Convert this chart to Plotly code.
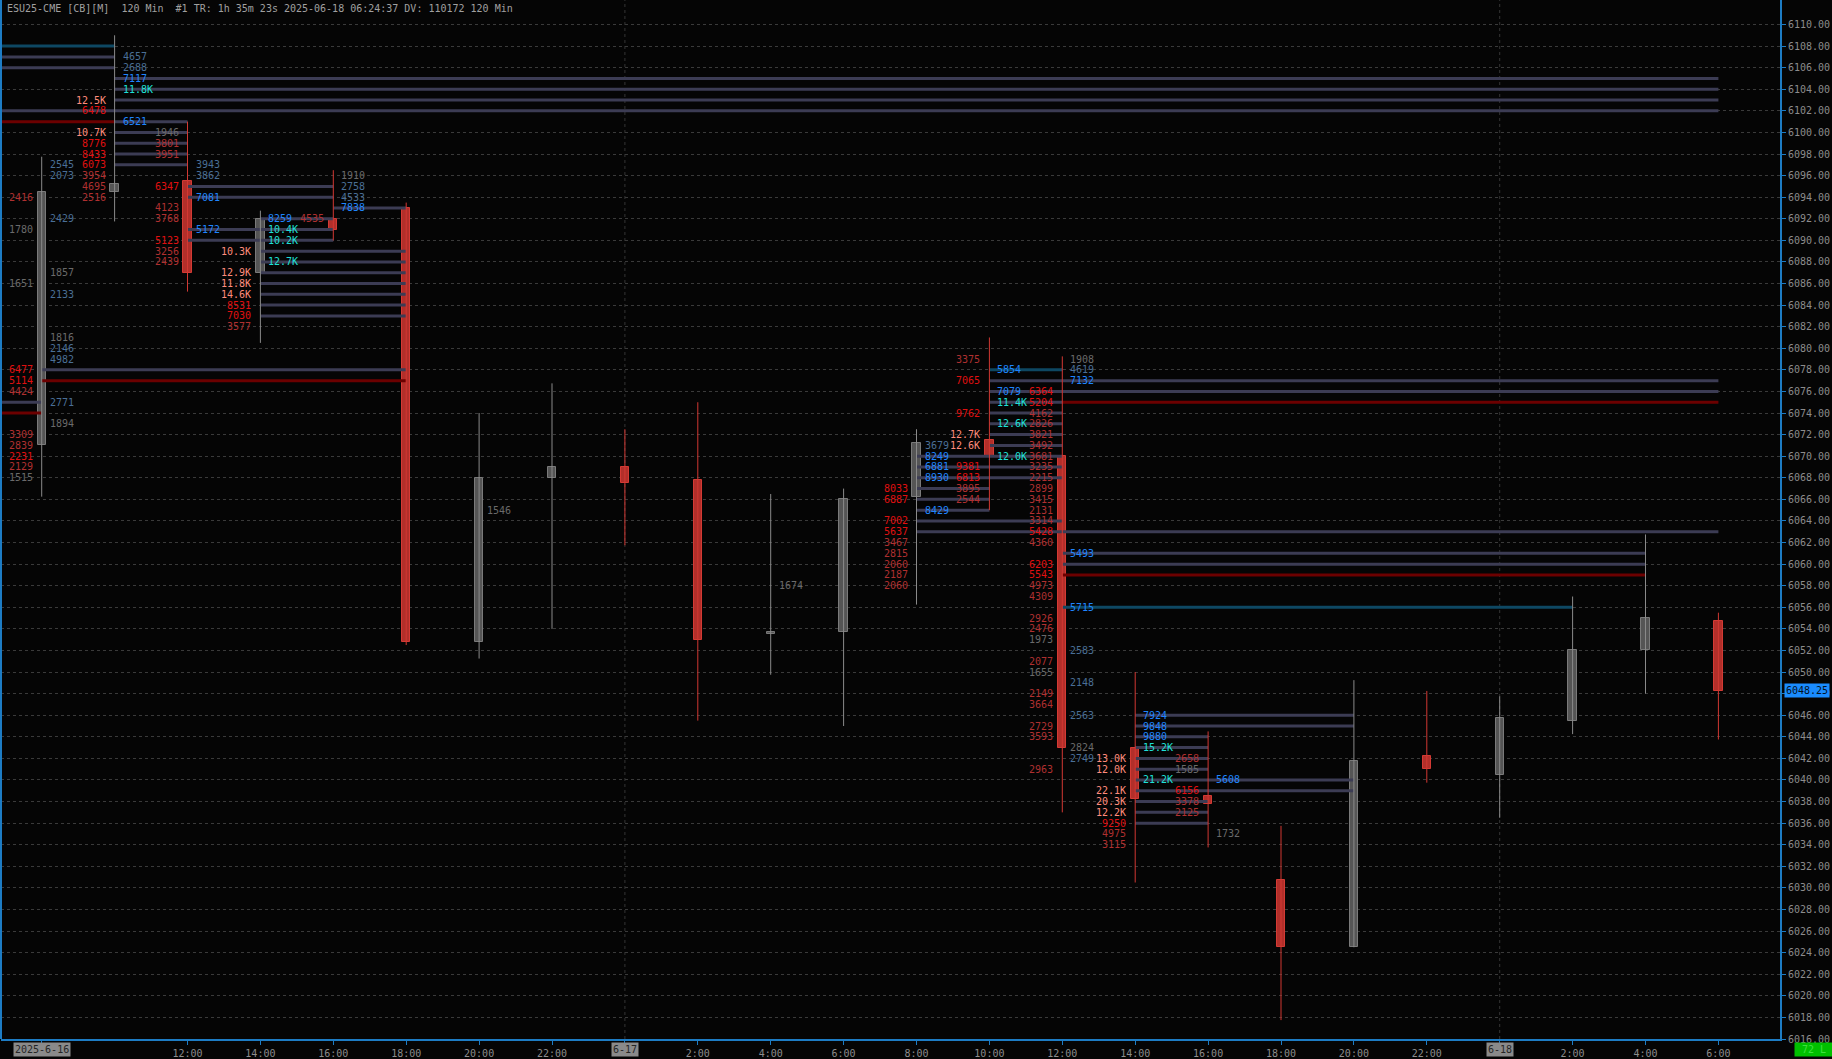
import plotly.graph_objects as go

# ---------------- data ----------------
X_LABELS = ['2025-6-16', '', '12:00', '14:00', '16:00', '18:00', '20:00', '22:00',
            '6-17', '2:00', '4:00', '6:00', '8:00', '10:00', '12:00', '14:00',
            '16:00', '18:00', '20:00', '22:00', '6-18', '2:00', '4:00', '6:00']

OPEN = [6071, 6094.5, 6095.5, 6087, 6092, 6093, 6052.75, 6068, 6069, 6067.75, 6053.5, 6053.75,
        6066.25, 6071.5, 6070, 6043, 6038.5, 6030.75, 6024.5, 6042.25, 6040.5, 6045.5, 6052, 6054.75]
HIGH = [6097.75, 6109, 6101, 6092.75, 6096.5, 6093.5, 6074, 6076.75, 6072.5, 6075, 6066.5, 6067,
        6072.5, 6081, 6079.25, 6050, 6044.5, 6035.75, 6049.25, 6048.25, 6047.75, 6057, 6062.75, 6055.5]
LOW = [6066.25, 6091.75, 6085.25, 6080.5, 6090, 6052.5, 6051.25, 6054, 6061.75, 6045.5, 6049.75, 6045,
       6056.25, 6065, 6037, 6030.5, 6033.75, 6017.75, 6024.5, 6039.75, 6036.5, 6044.25, 6048, 6043.75]
CLOSE = [6094.5, 6095.25, 6087, 6092, 6091, 6052.75, 6068, 6069, 6067.5, 6053, 6053.75, 6066,
         6071.25, 6070, 6043, 6038.25, 6037.75, 6024.5, 6041.75, 6041, 6045.75, 6052, 6055, 6048.25]

LAST_PRICE = 6048.25
Y_TICKS = list(range(6016, 6112, 2))

# (bar, price, text, tone)  tone: b=buy strong, c=buy extreme, d=buy weak, g=neutral,
#                                 r=sell strong, s=sell extreme, m=sell weak
BID_LABELS = [
    (0, 6094, '2416', 'm'), (0, 6091, '1780', 'g'), (0, 6086, '1651', 'g'), (0, 6078, '6477', 'r'),
    (0, 6077, '5114', 'r'), (0, 6076, '4424', 'm'), (0, 6072, '3309', 'm'), (0, 6071, '2839', 'm'),
    (0, 6070, '2231', 'r'), (0, 6069, '2129', 'm'), (0, 6068, '1515', 'g'),
    (1, 6103, '12.5K', 's'), (1, 6102, '6478', 'r'), (1, 6100, '10.7K', 's'), (1, 6099, '8776', 'r'),
    (1, 6098, '8433', 'r'), (1, 6097, '6073', 'r'), (1, 6096, '3954', 'm'), (1, 6095, '4695', 'm'),
    (1, 6094, '2516', 'm'),
    (2, 6100, '1946', 'g'), (2, 6099, '3801', 'm'), (2, 6098, '3951', 'm'), (2, 6095, '6347', 'r'),
    (2, 6093, '4123', 'm'), (2, 6092, '3768', 'm'), (2, 6090, '5123', 'r'), (2, 6089, '3256', 'm'),
    (2, 6088, '2439', 'm'),
    (3, 6089, '10.3K', 's'), (3, 6087, '12.9K', 's'), (3, 6086, '11.8K', 's'), (3, 6085, '14.6K', 's'),
    (3, 6084, '8531', 'r'), (3, 6083, '7030', 'r'), (3, 6082, '3577', 'm'),
    (4, 6092, '4535', 'm'),
    (12, 6067, '8033', 'r'), (12, 6066, '6887', 'r'), (12, 6064, '7002', 'r'), (12, 6063, '5637', 'r'),
    (12, 6062, '3467', 'm'), (12, 6061, '2815', 'm'), (12, 6060, '2060', 'm'), (12, 6059, '2187', 'm'),
    (12, 6058, '2060', 'm'),
    (13, 6079, '3375', 'm'), (13, 6077, '7065', 'r'), (13, 6074, '9762', 'r'), (13, 6072, '12.7K', 's'),
    (13, 6071, '12.6K', 's'), (13, 6069, '9381', 'r'), (13, 6068, '6813', 'r'), (13, 6067, '3895', 'm'),
    (13, 6066, '2544', 'm'),
    (14, 6076, '6364', 'r'), (14, 6075, '5204', 'r'), (14, 6074, '4162', 'm'), (14, 6073, '2826', 'm'),
    (14, 6072, '3821', 'm'), (14, 6071, '3492', 'm'), (14, 6070, '3681', 'm'), (14, 6069, '3235', 'm'),
    (14, 6068, '2215', 'm'), (14, 6067, '2899', 'm'), (14, 6066, '3415', 'm'), (14, 6065, '2131', 'm'),
    (14, 6064, '3314', 'm'), (14, 6063, '5428', 'r'), (14, 6062, '4360', 'm'), (14, 6060, '6203', 'r'),
    (14, 6059, '5543', 'r'), (14, 6058, '4973', 'm'), (14, 6057, '4309', 'm'), (14, 6055, '2926', 'm'),
    (14, 6054, '2476', 'm'), (14, 6053, '1973', 'g'), (14, 6051, '2077', 'm'), (14, 6050, '1655', 'g'),
    (14, 6048, '2149', 'm'), (14, 6047, '3664', 'm'), (14, 6045, '2729', 'm'), (14, 6044, '3593', 'm'),
    (14, 6041, '2963', 'm'),
    (15, 6042, '13.0K', 's'), (15, 6041, '12.0K', 's'), (15, 6039, '22.1K', 's'), (15, 6038, '20.3K', 's'),
    (15, 6037, '12.2K', 's'), (15, 6036, '9250', 'r'), (15, 6035, '4975', 'm'), (15, 6034, '3115', 'm'),
    (16, 6042, '2658', 'm'), (16, 6041, '1585', 'g'), (16, 6039, '6156', 'r'), (16, 6038, '3378', 'm'),
    (16, 6037, '2125', 'm'),
]

ASK_LABELS = [
    (0, 6097, '2545', 'd'), (0, 6096, '2073', 'd'), (0, 6092, '2429', 'd'), (0, 6087, '1857', 'g'),
    (0, 6085, '2133', 'd'), (0, 6081, '1816', 'g'), (0, 6080, '2146', 'd'), (0, 6079, '4982', 'd'),
    (0, 6075, '2771', 'd'), (0, 6073, '1894', 'g'),
    (1, 6107, '4657', 'd'), (1, 6106, '2688', 'd'), (1, 6105, '7117', 'b'), (1, 6104, '11.8K', 'c'),
    (1, 6101, '6521', 'b'),
    (2, 6097, '3943', 'd'), (2, 6096, '3862', 'd'), (2, 6094, '7081', 'b'), (2, 6091, '5172', 'b'),
    (3, 6092, '8259', 'b'), (3, 6091, '10.4K', 'c'), (3, 6090, '10.2K', 'c'), (3, 6088, '12.7K', 'c'),
    (4, 6096, '1910', 'g'), (4, 6095, '2758', 'd'), (4, 6094, '4533', 'd'), (4, 6093, '7838', 'b'),
    (6, 6065, '1546', 'g'),
    (10, 6058, '1674', 'g'),
    (12, 6071, '3679', 'd'), (12, 6070, '8249', 'b'), (12, 6069, '6881', 'b'), (12, 6068, '8930', 'b'),
    (12, 6065, '8429', 'b'),
    (13, 6078, '5854', 'b'), (13, 6076, '7079', 'b'), (13, 6075, '11.4K', 'c'), (13, 6073, '12.6K', 'c'),
    (13, 6070, '12.0K', 'c'),
    (14, 6079, '1908', 'g'), (14, 6078, '4619', 'd'), (14, 6077, '7132', 'b'), (14, 6061, '5493', 'b'),
    (14, 6056, '5715', 'b'), (14, 6052, '2583', 'd'), (14, 6049, '2148', 'd'), (14, 6046, '2563', 'd'),
    (14, 6043, '2824', 'g'), (14, 6042, '2749', 'd'),
    (15, 6046, '7924', 'b'), (15, 6045, '9848', 'b'), (15, 6044, '9880', 'b'), (15, 6043, '15.2K', 'c'),
    (15, 6040, '21.2K', 'c'),
    (16, 6040, '5608', 'b'), (16, 6035, '1732', 'g'),
]

# untested levels: (price, from bar, to bar); from bar None = starts before the visible range
GRAY_LEVELS = [
    (6107, None, 1), (6106, None, 1), (6105, 1, 23), (6104, 1, 23), (6103, 1, 23), (6102, None, 23),
    (6101, 1, 2), (6100, 1, 2), (6099, 1, 2), (6098, 1, 2), (6097, 1, 2),
    (6095, 2, 4), (6094, 2, 4), (6093, 4, 5), (6092, 3, 4), (6091, 2, 4), (6090, 2, 4),
    (6089, 3, 5), (6088, 3, 5), (6087, 3, 5), (6086, 3, 5), (6085, 3, 5), (6084, 3, 5), (6083, 3, 5),
    (6078, 0, 5), (6075, None, 0),
    (6077, 13, 14), (6076, 13, 14), (6075, 13, 14), (6074, 13, 14), (6073, 13, 14), (6072, 13, 14),
    (6071, 13, 14), (6077, 14, 23), (6076, 14, 23),
    (6070, 12, 14), (6069, 12, 14), (6068, 12, 14), (6067, 12, 13), (6066, 12, 13), (6065, 12, 13),
    (6064, 12, 14), (6063, 12, 23), (6061, 14, 22), (6060, 14, 22),
    (6046, 15, 18), (6045, 15, 18), (6044, 15, 16), (6043, 15, 16), (6042, 15, 16), (6041, 15, 16),
    (6040, 15, 18), (6039, 15, 18), (6038, 15, 16), (6037, 15, 16), (6036, 15, 16),
]
RED_LEVELS = [(6101, None, 1), (6077, 0, 5), (6074, None, 0), (6075, 14, 23), (6059, 14, 22)]
TEAL_LEVELS = [(6108, None, 1), (6078, 13, 14), (6056, 14, 21)]

TITLE = ('ESU25-CME [CB][M]\u00a0\u00a0120 Min\u00a0\u00a0#1 TR: 1h 35m 23s '
         '2025-06-18 06:24:37 DV: 110172 120 Min')

# ---------------- styling ----------------
FONT = 'DejaVu Sans Mono'
TONE = {'b': '#1f86ff', 'c': '#1fe0d8', 'd': '#4a6f96', 'g': '#6a6a6a',
        'r': '#e01010', 'm': '#b03030', 's': '#ff8c7c'}
BG = '#050505'
AXIS_BLUE = '#1d7cc4'
GRID = '#3a3a3a'

W, H = 1832, 1059
ML, MR, MT, MB = 1, 52, 0, 18
BAR_PX = 72.9
FIRST_BAR_PX = 41.7
x0 = -(FIRST_BAR_PX - ML) / BAR_PX
x1 = x0 + (W - ML - MR) / BAR_PX
Y_RANGE = [6016.0, 6112.27]

n = len(OPEN)
idx = list(range(n))

fig = go.Figure()

# level lines
def add_levels(levels, color, width):
    xs, ys = [], []
    for p, a, b in levels:
        xs += [x0 if a is None else a, b, None]
        ys += [p, p, None]
    fig.add_trace(go.Scatter(x=xs, y=ys, mode='lines', line=dict(color=color, width=width),
                             hoverinfo='skip', showlegend=False))

add_levels(GRAY_LEVELS, '#3c3c54', 3)
add_levels(RED_LEVELS, '#6c0000', 3)
add_levels(TEAL_LEVELS, '#0e4863', 3)

# wicks
up = [c >= o for o, c in zip(OPEN, CLOSE)]
for is_up, col in [(True, '#8a8a8a'), (False, '#d23833')]:
    xs, ys = [], []
    for i in idx:
        if up[i] == is_up:
            xs += [i, i, None]
            ys += [LOW[i], HIGH[i], None]
    fig.add_trace(go.Scatter(x=xs, y=ys, mode='lines', line=dict(color=col, width=1),
                             hoverinfo='skip', showlegend=False))

# bodies
fig.add_trace(go.Bar(
    x=idx,
    y=[max(abs(c - o), 0.15) for o, c in zip(OPEN, CLOSE)],
    base=[min(o, c) for o, c in zip(OPEN, CLOSE)],
    width=0.115,
    marker=dict(color=['#555555' if u else '#b22f2a' for u in up],
                line=dict(color=['#7a7a7a' if u else '#d43a34' for u in up], width=1)),
    hoverinfo='skip', showlegend=False))

annotations = []
for b, p, t, tone in BID_LABELS:
    annotations.append(dict(x=b, y=p, text=t, xanchor='right', yanchor='middle', xshift=-7,
                            showarrow=False, font=dict(family=FONT, size=10, color=TONE[tone])))
for b, p, t, tone in ASK_LABELS:
    annotations.append(dict(x=b, y=p, text=t, xanchor='left', yanchor='middle', xshift=6,
                            showarrow=False, font=dict(family=FONT, size=10, color=TONE[tone])))

# title
annotations.append(dict(xref='paper', yref='paper', x=0, y=1, xanchor='left', yanchor='top',
                        xshift=4, yshift=-1, text=TITLE, showarrow=False,
                        font=dict(family=FONT, size=10, color='#a0a0a0')))
# last price
annotations.append(dict(xref='paper', x=1, y=LAST_PRICE, xanchor='left', yanchor='middle',
                        xshift=4, text=f'{LAST_PRICE:.2f}', showarrow=False, bgcolor='#1a8cff',
                        borderpad=1, font=dict(family=FONT, size=10, color='#04111f')))
# date tick labels
tickvals = [i for i, t in enumerate(X_LABELS) if t]
ticktext = [('' if '-' in t else t) for t in X_LABELS if t]
for i, t in enumerate(X_LABELS):
    if '-' in t:
        annotations.append(dict(x=i, xref='x', yref='paper', y=0, yanchor='top', xanchor='center',
                                yshift=-3, text=t, showarrow=False, bgcolor='#8a8a8a', borderpad=1,
                                font=dict(family=FONT, size=10, color='#262626')))
# corner box
annotations.append(dict(xref='paper', yref='paper', x=1, y=0, xanchor='left', yanchor='top',
                        xshift=14, yshift=-3, text='\u00a072\u00a0L\u00a0', showarrow=False,
                        bgcolor='#00c000', borderpad=1,
                        font=dict(family=FONT, size=10, color='#3fe03f')))

shapes = []
for i, t in enumerate(X_LABELS):
    if '-' in t and i > 0:
        shapes.append(dict(type='line', xref='x', yref='paper', x0=i, x1=i, y0=0, y1=1,
                           line=dict(color='#353535', width=1, dash='dot'), layer='below'))
shapes.append(dict(type='line', xref='paper', yref='paper', x0=0, x1=0, y0=0, y1=1,
                   line=dict(color=AXIS_BLUE, width=2)))

fig.update_layout(
    width=W, height=H, autosize=False,
    margin=dict(l=ML, r=MR, t=MT, b=MB, pad=0),
    paper_bgcolor=BG, plot_bgcolor=BG,
    showlegend=False, bargap=0,
    annotations=annotations, shapes=shapes,
    xaxis=dict(range=[x0, x1], tickvals=tickvals, ticktext=ticktext, showgrid=False,
               zeroline=False, showline=True, linecolor=AXIS_BLUE, linewidth=2,
               ticks='outside', ticklen=4, tickcolor=AXIS_BLUE,
               tickfont=dict(family=FONT, size=10, color='#8c8c8c')),
    yaxis=dict(range=Y_RANGE, side='right', tickvals=Y_TICKS, tickformat='.2f',
               showgrid=True, gridcolor=GRID, griddash='dot', gridwidth=1,
               zeroline=False, showline=True, linecolor=AXIS_BLUE, linewidth=2,
               ticks='outside', ticklen=4, tickcolor=AXIS_BLUE,
               tickfont=dict(family=FONT, size=10, color='#8c8c8c')),
)

fig.write_html('out.html', config={'displayModeBar': False}, post_script=(
    "document.body.style.margin='0';document.body.style.background='#050505';"
    "document.body.style.overflow='hidden';"))
